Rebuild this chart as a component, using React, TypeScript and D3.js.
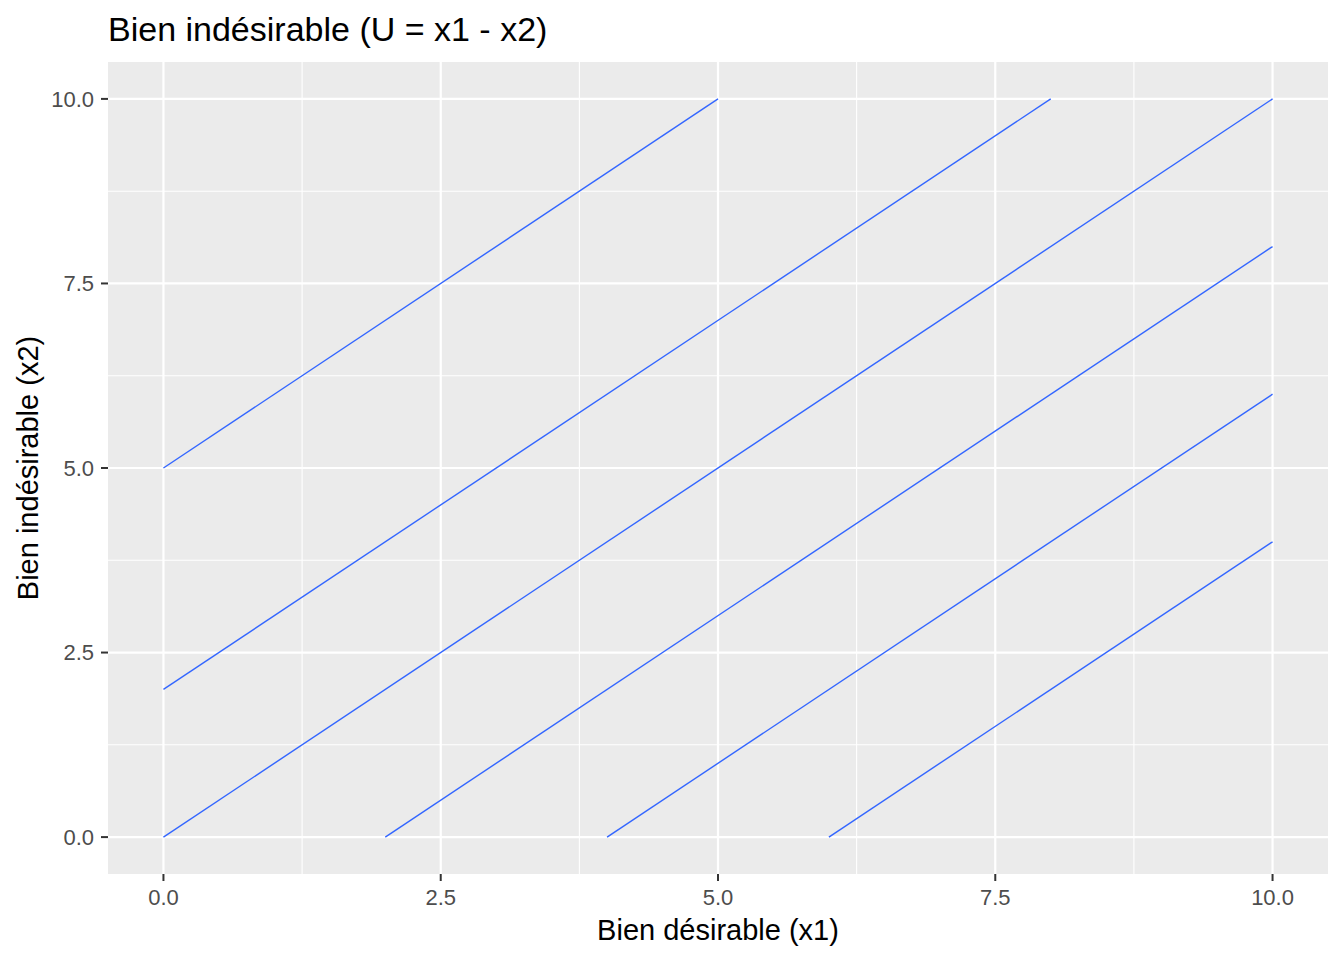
import React from "react";
import * as d3 from "d3";

const utilityLevels = [-5, -2, 0, 2, 4, 6];
const xTicks = [0, 2.5, 5, 7.5, 10];
const yTicks = [0, 2.5, 5, 7.5, 10];
const xMinor = [1.25, 3.75, 6.25, 8.75];
const yMinor = [1.25, 3.75, 6.25, 8.75];
const titleText = "Bien indésirable (U = x1 - x2)";
const xLabel = "Bien désirable (x1)";
const yLabel = "Bien indésirable (x2)";

const W = 1344, H = 960;
const panel = { left: 108, right: 1328, top: 62, bottom: 874 };
const FONT = "'Liberation Sans', Arial, sans-serif";

export default function App() {
  const x = d3.scaleLinear().domain([-0.5, 10.5]).range([panel.left, panel.right]);
  const y = d3.scaleLinear().domain([-0.5, 10.5]).range([panel.bottom, panel.top]);
  const line = d3.line<[number, number]>().x(d => x(d[0])).y(d => y(d[1]));
  const segs = utilityLevels.map(u => {
    const x0 = Math.max(0, u), x1 = Math.min(10, 10 + u);
    return [[x0, x0 - u], [x1, x1 - u]] as [number, number][];
  });
  return (
    <svg width={W} height={H} style={{ position: "absolute", left: 0, top: 0, background: "#fff" }}>
      <rect x={0} y={0} width={W} height={H} fill="#fff" />
      <rect x={panel.left} y={panel.top} width={panel.right - panel.left} height={panel.bottom - panel.top} fill="#EBEBEB" />
      {xMinor.map(v => <line key={"xm" + v} x1={x(v)} x2={x(v)} y1={panel.top} y2={panel.bottom} stroke="#fff" strokeWidth={1.1} />)}
      {yMinor.map(v => <line key={"ym" + v} y1={y(v)} y2={y(v)} x1={panel.left} x2={panel.right} stroke="#fff" strokeWidth={1.1} />)}
      {xTicks.map(v => <line key={"xM" + v} x1={x(v)} x2={x(v)} y1={panel.top} y2={panel.bottom} stroke="#fff" strokeWidth={2.2} />)}
      {yTicks.map(v => <line key={"yM" + v} y1={y(v)} y2={y(v)} x1={panel.left} x2={panel.right} stroke="#fff" strokeWidth={2.2} />)}
      {segs.map((s, i) => <path key={i} d={line(s) || ""} fill="none" stroke="#3366FF" strokeWidth={1.4} />)}
      {xTicks.map(v => (
        <g key={"xt" + v}>
          <line x1={x(v)} x2={x(v)} y1={panel.bottom} y2={panel.bottom + 7} stroke="#333" strokeWidth={2} />
          <text x={x(v)} y={905} textAnchor="middle" fontFamily={FONT} fontSize={22} fill="#4D4D4D">{v.toFixed(1)}</text>
        </g>
      ))}
      {yTicks.map(v => (
        <g key={"yt" + v}>
          <line x1={panel.left - 7} x2={panel.left} y1={y(v)} y2={y(v)} stroke="#333" strokeWidth={2} />
          <text x={94} y={y(v)} dy="0.36em" textAnchor="end" fontFamily={FONT} fontSize={22} fill="#4D4D4D">{v.toFixed(1)}</text>
        </g>
      ))}
      <text x={(panel.left + panel.right) / 2} y={940} textAnchor="middle" fontFamily={FONT} fontSize={29} fill="#000">{xLabel}</text>
      <text transform={`translate(38, ${(panel.top + panel.bottom) / 2}) rotate(-90)`} textAnchor="middle" fontFamily={FONT} fontSize={29} fill="#000">{yLabel}</text>
      <text x={108} y={41} fontFamily={FONT} fontSize={34} fill="#000">{titleText}</text>
    </svg>
  );
}
